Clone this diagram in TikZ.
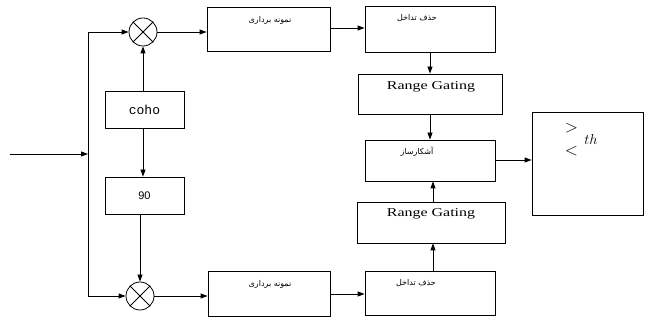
\documentclass[tikz,border=0pt]{standalone}
\usepackage{fontspec}
\setmainfont{Liberation Serif}
\newfontfamily\arabicfont[Script=Arabic]{DejaVu Sans}
\newfontfamily\monofont{Liberation Mono}
\newfontfamily\sansfont{Liberation Sans}
\TeXXeTstate=1
\usetikzlibrary{arrows.meta}
\newcommand{\fatext}[1]{\mbox{\beginR #1\endR}}
\begin{document}
\begin{tikzpicture}[x=1pt,y=-1pt,
  blk/.style={draw,line width=0.8pt,inner sep=0pt},
  mix/.style={draw,line width=0.8pt,circle,minimum size=28pt,inner sep=0pt},
  arr/.style={line width=0.8pt,-{Triangle[length=7pt,width=5pt]}},
  ln/.style={line width=0.8pt},
  fa/.style={font=\arabicfont\fontsize{8}{9}\selectfont,inner sep=0pt},
  rg/.style={font=\fontsize{12}{14}\selectfont}]
\useasboundingbox (0,0) rectangle (646,320);
% boxes
\node[blk,minimum width=79pt,minimum height=37pt] (coho) at (144.5,109.5) {};
\node[font=\monofont\fontsize{13}{15}\selectfont] at (coho.center) {coho};
\node[blk,minimum width=79pt,minimum height=37pt] (ninety) at (144.5,195.5) {};
\node[font=\sansfont\fontsize{11}{13}\selectfont] at (ninety.center) {90};
\node[mix] (m1) at (143,32) {};
\draw[ln] (m1.north west) -- (m1.south east) (m1.north east) -- (m1.south west);
\node[mix] (m2) at (140,296) {};
\draw[ln] (m2.north west) -- (m2.south east) (m2.north east) -- (m2.south west);
\node[blk,minimum width=123pt,minimum height=44pt] (s1) at (268.5,29) {};
\node[fa] at (270,20) {\fatext{نمونه برداری}};
\node[blk,minimum width=122pt,minimum height=45pt] (s2) at (269,293.5) {};
\node[fa] at (270,284) {\fatext{نمونه برداری}};
\node[blk,minimum width=130pt,minimum height=46pt] (h1) at (430,29) {};
\node[fa] at (417,18) {\fatext{حذف تداخل}};
\node[blk,minimum width=130pt,minimum height=44pt] (h2) at (430,293) {};
\node[fa] at (416,283) {\fatext{حذف تداخل}};
\node[blk,minimum width=144pt,minimum height=40pt] (rg1) at (430,94) {};
\node[rg] at (431,87) {\scalebox{1.33}[1]{Range Gating}};
\node[blk,minimum width=148pt,minimum height=41pt] (rg2) at (431,222.5) {};
\node[rg] at (431,214) {\scalebox{1.33}[1]{Range Gating}};
\node[blk,minimum width=130pt,minimum height=41pt] (det) at (430,160.5) {};
\node[fa] at (417,152) {\fatext{آشکارساز}};
\node[blk,minimum width=111pt,minimum height=103pt] (th) at (587.5,163.5) {};
\node[font=\fontsize{18}{20}\selectfont] at (571.5,128) {$>$};
\node[font=\fontsize{18}{20}\selectfont] at (571.5,151.5) {$<$};
\node[font=\fontsize{15}{17}\selectfont] at (591,140) {$th$};
% connectors
\coordinate (in) at (10,154);
\coordinate (j) at (88,154);
\coordinate (jt) at (88,32);
\coordinate (jb) at (88,296);
\draw[arr] (in) -- (j);
\draw[ln] (jt) -- (jb);
\draw[arr] (jt) -- (m1.west);
\draw[arr] (jb) -- (m2.west);
\draw[arr] (coho.north -| m1.south) -- (m1.south);
\draw[arr] (coho.south -| m1.south) -- (ninety.north -| m1.south);
\draw[arr] (ninety.south -| m2.north) -- (m2.north);
\draw[arr] (m1.east) -- (s1.west |- m1.east);
\draw[arr] (m2.east) -- (s2.west |- m2.east);
\draw[arr] (s1.east |- 0,28) -- (h1.west |- 0,28);
\draw[arr] (s2.east |- 0,294) -- (h2.west |- 0,294);
\draw[arr] (h1.south) -- (rg1.north);
\draw[arr] (rg1.south) -- (det.north);
\draw[arr] (h2.north -| 433,0) -- (rg2.south -| 433,0);
\draw[arr] (rg2.north -| 433,0) -- (det.south -| 433,0);
\draw[arr] (det.east |- 0,160) -- (th.west |- 0,160);
\end{tikzpicture}
\end{document}
